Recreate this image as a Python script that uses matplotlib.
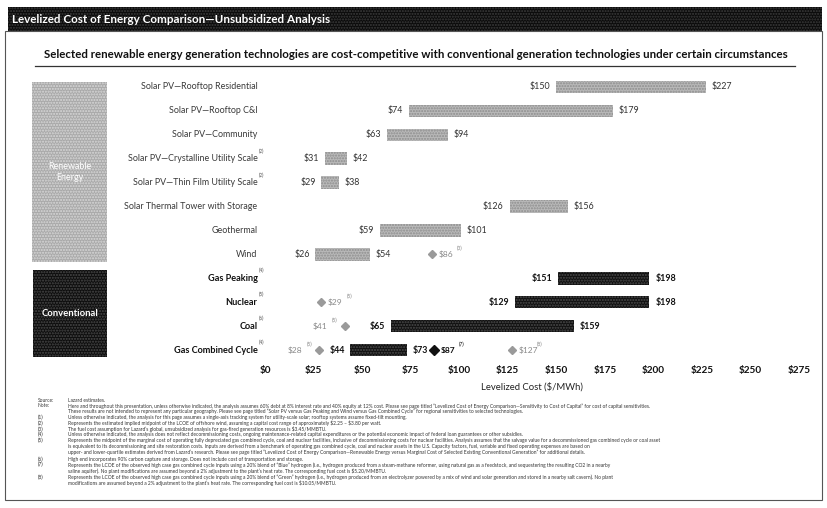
import matplotlib
matplotlib.use("Agg")
import matplotlib.pyplot as plt
from matplotlib.patches import Rectangle
from matplotlib.lines import Line2D

plt.rcParams["font.family"] = ["Lato", "DejaVu Sans"]

# ---- data -------------------------------------------------------------
technologies = [
    "Solar PV\u2014Rooftop Residential",
    "Solar PV\u2014Rooftop C&I",
    "Solar PV\u2014Community",
    "Solar PV\u2014Crystalline Utility Scale",
    "Solar PV\u2014Thin Film Utility Scale",
    "Solar Thermal Tower with Storage",
    "Geothermal",
    "Wind",
    "Gas Peaking",
    "Nuclear",
    "Coal",
    "Gas Combined Cycle",
]
tech_notes = ["", "", "", "(2)", "(2)", "", "", "", "(4)", "(5)", "(6)", "(4)"]
cost_low = [150, 74, 63, 31, 29, 126, 59, 26, 151, 129, 65, 44]
cost_high = [227, 179, 94, 42, 38, 156, 101, 54, 198, 198, 159, 73]
is_conventional = [False] * 8 + [True] * 4

# single-point estimates shown as diamonds
point_rows = [7, 9, 10, 11, 11, 11]
point_values = [86, 29, 41, 28, 87, 127]
point_notes = ["(3)", "(5)", "(5)", "(5)", "(7)", "(8)"]
point_dark = [False, False, False, False, True, False]
point_label_side = ["right", "right", "left", "left", "right", "right"]

xticks = [0, 25, 50, 75, 100, 125, 150, 175, 200, 225, 250, 275]
xtick_labels = ["$" + str(t) for t in xticks]

footnotes = [
    ("Source:", "Lazard estimates."),
    ("Note:", "Here and throughout this presentation, unless otherwise indicated, the analysis assumes 60% debt at 8% interest rate and 40% equity at 12% cost. Please see page titled \u201cLevelized Cost of Energy Comparison\u2014Sensitivity to Cost of Capital\u201d for cost of capital sensitivities."),
    ("", "These results are not intended to represent any particular geography. Please see page titled \u201cSolar PV versus Gas Peaking and Wind versus Gas Combined Cycle\u201d for regional sensitivities to selected technologies."),
    ("(1)", "Unless otherwise indicated, the analysis for this page assumes a single-axis tracking system for utility-scale solar; rooftop systems assume fixed-tilt mounting."),
    ("(2)", "Represents the estimated implied midpoint of the LCOE of offshore wind, assuming a capital cost range of approximately $2.25 \u2013 $3.80 per watt."),
    ("(3)", "The fuel cost assumption for Lazard\u2019s global, unsubsidized analysis for gas-fired generation resources is $3.45/MMBTU."),
    ("(4)", "Unless otherwise indicated, the analysis does not reflect decommissioning costs, ongoing maintenance-related capital expenditures or the potential economic impact of federal loan guarantees or other subsidies."),
    ("(5)", "Represents the midpoint of the marginal cost of operating fully depreciated gas combined cycle, coal and nuclear facilities, inclusive of decommissioning costs for nuclear facilities. Analysis assumes that the salvage value for a decommissioned gas combined cycle or coal asset"),
    ("", "is equivalent to its decommissioning and site restoration costs. Inputs are derived from a benchmark of operating gas combined cycle, coal and nuclear assets in the U.S. Capacity factors, fuel, variable and fixed operating expenses are based on"),
    ("", "upper- and lower-quartile estimates derived from Lazard\u2019s research. Please see page titled \u201cLevelized Cost of Energy Comparison\u2014Renewable Energy versus Marginal Cost of Selected Existing Conventional Generation\u201d for additional details."),
    ("(6)", "High end incorporates 90% carbon capture and storage. Does not include cost of transportation and storage."),
    ("(7)", "Represents the LCOE of the observed high case gas combined cycle inputs using a 20% blend of \u201cBlue\u201d hydrogen (i.e., hydrogen produced from a steam-methane reformer, using natural gas as a feedstock, and sequestering the resulting CO2 in a nearby"),
    ("", "saline aquifer). No plant modifications are assumed beyond a 2% adjustment to the plant\u2019s heat rate. The corresponding fuel cost is $5.20/MMBTU."),
    ("(8)", "Represents the LCOE of the observed high case gas combined cycle inputs using a 20% blend of \u201cGreen\u201d hydrogen (i.e., hydrogen produced from an electrolyzer powered by a mix of wind and solar generation and stored in a nearby salt cavern). No plant"),
    ("", "modifications are assumed beyond a 2% adjustment to the plant\u2019s heat rate. The corresponding fuel cost is $10.05/MMBTU."),
]
footnote_y = [400, 405.8, 411.6, 417.4, 423.2, 429, 434.8, 440.6, 446.4, 452.2, 459, 464.8, 470.6, 477.4, 483.2]

# ---- figure -----------------------------------------------------------
W, H = 828, 508
fig = plt.figure(figsize=(W / 100, H / 100), dpi=100)
fig.patch.set_facecolor("white")


def fx(x):
    return x / W


def fy(y):
    return 1 - y / H


def fig_rect(x0, y0, x1, y1, **kw):
    r = Rectangle((fx(x0), fy(y1)), fx(x1) - fx(x0), fy(y0) - fy(y1),
                  transform=fig.transFigure, **kw)
    fig.add_artist(r)
    return r


# header band
fig_rect(8, 7, 822, 31, facecolor="#0b0b0b", edgecolor="#3c3c3c",
         hatch="......", linewidth=0)
fig.text(fx(12), fy(19.5), "Levelized Cost of Energy Comparison\u2014Unsubsidized Analysis",
         color="white", fontsize=8.4, fontweight="bold", va="center", ha="left")

# page frame
fig_rect(5, 31, 822, 500, facecolor="none", edgecolor="#555555", linewidth=0.8)

# subtitle with rule
fig.text(fx(416), fy(55), "Selected renewable energy generation technologies are cost-competitive "
         "with conventional generation technologies under certain circumstances",
         fontsize=8.3, fontweight="bold", ha="center", va="center", color="#111111")
fig.add_artist(Line2D([fx(35), fx(795)], [fy(66), fy(66)], color="#333333", lw=0.9,
                      transform=fig.transFigure))

# group boxes
fig_rect(32, 82, 107, 262, facecolor="#a9a9a9", edgecolor="#d8d8d8",
         hatch="......", linewidth=0)
fig.text(fx(70), fy(172), "Renewable\nEnergy", color="white", fontsize=6.4,
         ha="center", va="center", linespacing=1.2)
fig_rect(33, 270, 107, 357, facecolor="#0e0e0e", edgecolor="#4a4a4a",
         hatch="......", linewidth=0)
fig.text(fx(70), fy(313), "Conventional", color="white", fontsize=6.8,
         fontweight="bold", ha="center", va="center")

# ---- chart ------------------------------------------------------------
ax = fig.add_axes([fx(265), fy(362), fx(799) - fx(265), fy(75) - fy(362)])
ax.set_xlim(0, 275)
ax.set_ylim(len(technologies) - 0.5, -0.5)
for s in ax.spines.values():
    s.set_visible(False)
ax.set_yticks([])
ax.set_xticks(xticks)
ax.set_xticklabels(xtick_labels, fontsize=7.2, fontweight="bold", color="#111111")
ax.tick_params(axis="x", length=0, pad=3)
ax.set_xlabel("Levelized Cost ($/MWh)", fontsize=6.8, color="#222222", labelpad=5)

rows = list(range(len(technologies)))
widths = [h - l for l, h in zip(cost_low, cost_high)]
for i in rows:
    conv = is_conventional[i]
    ax.barh(i, widths[i], left=cost_low[i], height=0.52,
            color="#111111" if conv else "#b9b9b9",
            edgecolor="#4d4d4d" if conv else "#8d8d8d",
            hatch="......", linewidth=0)
    val_color = "#111111" if conv else "#333333"
    ax.text(cost_low[i] - 3, i, "$" + str(cost_low[i]), ha="right", va="center",
            fontsize=6.4, color=val_color, fontweight="bold" if conv else "normal")
    ax.text(cost_high[i] + 3, i, "$" + str(cost_high[i]), ha="left", va="center",
            fontsize=6.4, color=val_color, fontweight="bold" if conv else "normal")

# row labels
lab_trans = ax.get_yaxis_transform()
for i in rows:
    conv = is_conventional[i]
    ax.text(-0.014, i, technologies[i], transform=lab_trans, ha="right", va="center",
            fontsize=6.6 if conv else 6.4, color="#111111" if conv else "#3a3a3a",
            fontweight="bold" if conv else "normal")
    if tech_notes[i]:
        ax.text(-0.012, i - 0.32, tech_notes[i], transform=lab_trans, ha="left",
                va="center", fontsize=3.4, color="#555555")

# diamond markers
for r, v, n, dark, side in zip(point_rows, point_values, point_notes,
                                point_dark, point_label_side):
    ax.plot(v, r, marker="D", markersize=5 if dark else 4.2,
            color="#111111" if dark else "#9a9a9a", linestyle="none")
    txt_color = "#111111" if dark else "#8a8a8a"
    if side == "right":
        ax.text(v + 3.5, r, "$" + str(v), ha="left", va="center", fontsize=6.0,
                color=txt_color, fontweight="bold" if dark else "normal")
        ax.text(v + 3.5 + 9.5, r - 0.25, n, ha="left", va="center", fontsize=3.6,
                color=txt_color)
    else:
        ax.text(v - 3.5, r - 0.25, n, ha="right", va="center", fontsize=3.6,
                color=txt_color)
        ax.text(v - 3.5 - 5.5, r, "$" + str(v), ha="right", va="center",
                fontsize=6.0, color=txt_color)

# ---- footnotes (plain text, dollar signs are literal) -----------------
for (lab, body), y in zip(footnotes, footnote_y):
    if lab:
        fig.text(fx(38), fy(y), lab, fontsize=3.5, color="#333333", va="center",
                 parse_math=False)
    fig.text(fx(68), fy(y), body, fontsize=3.5, color="#333333", va="center",
             parse_math=False)

fig.savefig("out.png", dpi=100)
